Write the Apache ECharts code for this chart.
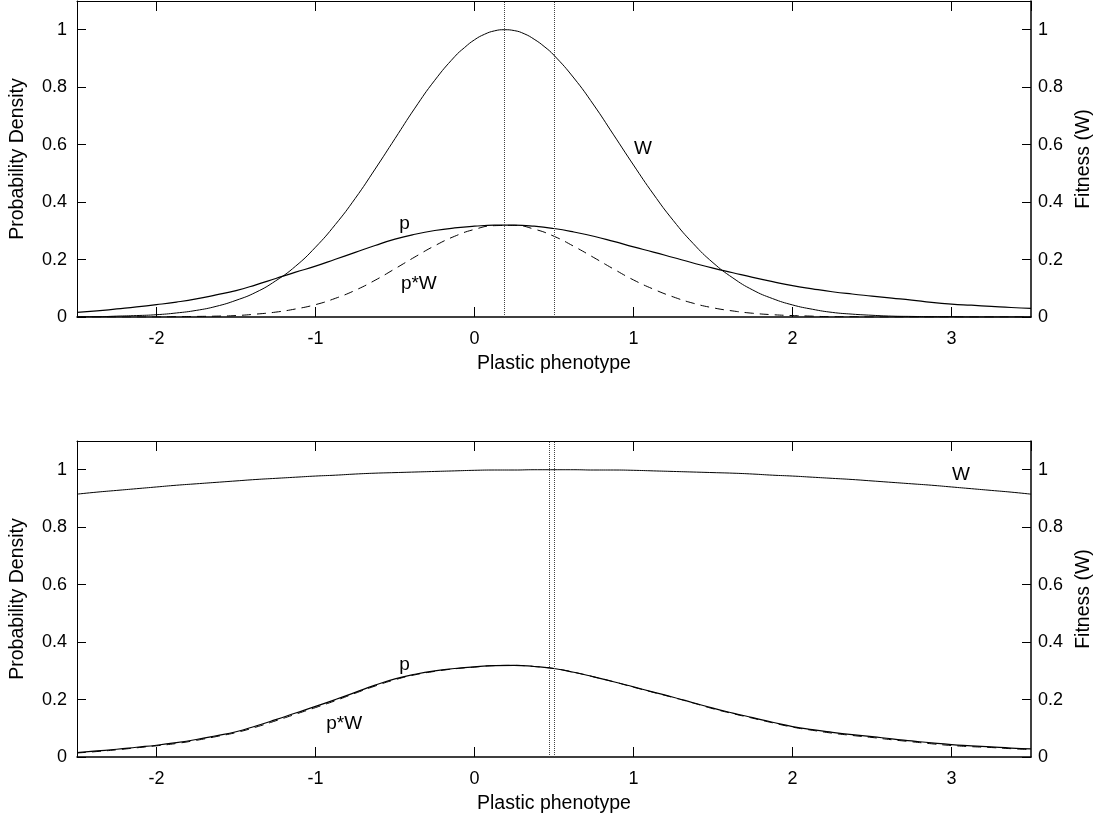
<!DOCTYPE html>
<html>
<head>
<meta charset="utf-8">
<title>Plastic phenotype</title>
<script src="https://cdn.jsdelivr.net/npm/echarts@6/dist/echarts.min.js"></script>
<style>
  html, body { margin: 0; padding: 0; background: #fff; }
  #main { width: 1104px; height: 818px; }
</style>
</head>
<body>
<div id="main"></div>
<script>
// x positions (plastic phenotype), step 0.125
var phenotype = [-2.5, -2.375, -2.25, -2.125, -2, -1.875, -1.75, -1.625, -1.5, -1.375, -1.25, -1.125,
                 -1, -0.875, -0.75, -0.625, -0.5, -0.375, -0.25, -0.125, 0, 0.125, 0.25, 0.375,
                 0.5, 0.625, 0.75, 0.875, 1, 1.125, 1.25, 1.375, 1.5, 1.625, 1.75, 1.875,
                 2, 2.125, 2.25, 2.375, 2.5, 2.625, 2.75, 2.875, 3, 3.125, 3.25, 3.375, 3.5];

// top panel: narrow fitness function (read a bit finer around its peak)
var fitnessTopX = [-2.5, -2.375, -2.25, -2.125, -2, -1.875, -1.75, -1.625, -1.5, -1.375, -1.25, -1.125,
                   -1, -0.875, -0.75, -0.625, -0.5, -0.375, -0.25, -0.125, -0.0625, 0, 0.0625, 0.125,
                   0.1875, 0.25, 0.3125, 0.375, 0.4375, 0.5, 0.625, 0.75, 0.875, 1, 1.125, 1.25,
                   1.375, 1.5, 1.625, 1.75, 1.875, 2, 2.125, 2.25, 2.375, 2.5, 2.625, 2.75, 2.875,
                   3, 3.125, 3.25, 3.375, 3.5];
var fitnessTop = [0.001, 0.001, 0.003, 0.005, 0.008, 0.014, 0.023, 0.037, 0.058, 0.086, 0.126, 0.177,
                  0.243, 0.322, 0.413, 0.515, 0.621, 0.727, 0.824, 0.906, 0.938, 0.965, 0.984, 0.996,
                  1.0, 0.997, 0.986, 0.967, 0.942, 0.911, 0.832, 0.738, 0.634, 0.529, 0.428, 0.336,
                  0.256, 0.189, 0.136, 0.094, 0.064, 0.042, 0.027, 0.016, 0.010, 0.006, 0.003, 0.002, 0.001,
                  0.001, 0, 0, 0, 0];
var densityTop = [0.016, 0.021, 0.028, 0.035, 0.043, 0.052, 0.063, 0.077, 0.092, 0.112, 0.134, 0.156,
                  0.177, 0.201, 0.225, 0.249, 0.271, 0.288, 0.301, 0.31, 0.316, 0.3195, 0.3195, 0.316,
                  0.308, 0.296, 0.281, 0.263, 0.244, 0.226, 0.207, 0.188, 0.17, 0.154, 0.138, 0.123,
                  0.109, 0.098, 0.088, 0.08, 0.073, 0.066, 0.059, 0.051, 0.045, 0.041, 0.037, 0.033, 0.03];
var selectedTop = [0, 0, 0, 0, 0, 0.001, 0.002, 0.003, 0.005, 0.01, 0.017, 0.028,
                   0.043, 0.065, 0.093, 0.128, 0.168, 0.209, 0.248, 0.281, 0.305, 0.318, 0.319, 0.306,
                   0.281, 0.246, 0.207, 0.167, 0.129, 0.097, 0.07, 0.048, 0.032, 0.021, 0.013, 0.008,
                   0.005, 0.003, 0.001, 0.001, 0, 0, 0, 0, 0, 0, 0, 0, 0];
var meanLinesTop = [0.19, 0.5];

// bottom panel: flat fitness function
var fitnessBottom = [0.915, 0.922, 0.928, 0.934, 0.94, 0.946, 0.951, 0.956, 0.961, 0.966, 0.97, 0.974,
                     0.978, 0.981, 0.985, 0.988, 0.99, 0.992, 0.994, 0.996, 0.998, 0.999, 0.999, 1.0,
                     1.0, 1.0, 0.999, 0.999, 0.998, 0.996, 0.994, 0.992, 0.99, 0.988, 0.985, 0.981,
                     0.978, 0.974, 0.97, 0.966, 0.961, 0.956, 0.951, 0.946, 0.94, 0.934, 0.928, 0.922, 0.915];
var densityBottom = [0.015, 0.021, 0.027, 0.034, 0.041, 0.05, 0.061, 0.074, 0.088, 0.108, 0.13, 0.153,
                     0.176, 0.2, 0.225, 0.25, 0.272, 0.288, 0.3, 0.308, 0.314, 0.318, 0.319, 0.315,
                     0.308, 0.295, 0.279, 0.262, 0.244, 0.226, 0.208, 0.189, 0.17, 0.153, 0.137, 0.121,
                     0.106, 0.095, 0.086, 0.078, 0.071, 0.063, 0.056, 0.049, 0.043, 0.039, 0.035, 0.031, 0.028];
var selectedBottom = [0.014, 0.019, 0.025, 0.032, 0.039, 0.047, 0.058, 0.071, 0.085, 0.104, 0.126, 0.149,
                      0.172, 0.196, 0.222, 0.247, 0.269, 0.286, 0.298, 0.307, 0.313, 0.318, 0.319, 0.315,
                      0.308, 0.295, 0.279, 0.262, 0.243, 0.225, 0.207, 0.188, 0.168, 0.151, 0.135, 0.119,
                      0.104, 0.093, 0.083, 0.075, 0.068, 0.06, 0.053, 0.046, 0.04, 0.036, 0.033, 0.029, 0.026];
var meanLinesBottom = [0.47, 0.5];

var FONT = 'Liberation Sans, Arial, sans-serif';

function pairs(xs, ys) {
    return xs.map(function (x, i) { return [x, ys[i]]; });
}

function xAxes(g) {
    var common = {
        type: 'value', gridIndex: g, min: -2.5, max: 3.5,
        splitLine: { show: false },
        axisLine: { onZero: false, lineStyle: { color: '#000', width: 1 } },
        axisTick: { inside: true, length: 10, lineStyle: { color: '#000' } }
    };
    var bottom = Object.assign({}, common, {
        position: 'bottom',
        axisLine: { onZero: false, lineStyle: { color: '#000', width: 1.5 } },
        axisLabel: { color: '#000', fontSize: 18, fontFamily: FONT, margin: 13,
                     showMinLabel: false, showMaxLabel: false },
        name: 'Plastic phenotype', nameLocation: 'middle', nameGap: 37,
        nameTextStyle: { color: '#000', fontSize: 19.5, fontFamily: FONT }
    });
    var top = Object.assign({}, common, { position: 'top', axisLabel: { show: false } });
    return [bottom, top];
}

function yAxes(g) {
    var common = {
        type: 'value', gridIndex: g, min: 0, max: 1.1, interval: 0.2,
        splitLine: { show: false },
        axisTick: { inside: true, length: 9, lineStyle: { color: '#000' } },
        nameLocation: 'middle',
        nameTextStyle: { color: '#000', fontSize: 19.5, fontFamily: FONT }
    };
    var left = Object.assign({}, common, {
        position: 'left',
        axisLine: { show: true, onZero: false, lineStyle: { color: '#000', width: 1 } },
        axisLabel: { color: '#000', fontSize: 18, fontFamily: FONT, margin: 10, showMaxLabel: false },
        name: 'Probability Density', nameGap: 49
    });
    var right = Object.assign({}, common, {
        position: 'right',
        axisLine: { show: true, onZero: false, lineStyle: { color: '#000', width: 1.5 } },
        axisLabel: { color: '#000', fontSize: 18, fontFamily: FONT, margin: 7, showMaxLabel: false },
        name: 'Fitness (W)', nameGap: 43
    });
    return [left, right];
}

function tag(text, x, y) {
    return {
        symbol: 'circle', symbolSize: 0, silent: true,
        label: { show: true, position: 'inside', formatter: text, color: '#000', fontSize: 19, fontFamily: FONT },
        data: [{ coord: [x, y] }]
    };
}

function panel(g, fitnessX, fitness, density, selected, means, tags) {
    var xi = g * 2, yi = g * 2;
    return [
        {
            name: 'W', type: 'line', xAxisIndex: xi, yAxisIndex: yi + 1,
            data: pairs(fitnessX, fitness), smooth: 0.5, showSymbol: false, silent: true,
            lineStyle: { color: '#000', width: 1 },
            markPoint: tag('W', tags.W[0], tags.W[1])
        },
        {
            name: 'p', type: 'line', xAxisIndex: xi, yAxisIndex: yi,
            data: pairs(phenotype, density), smooth: 0.5, showSymbol: false, silent: true,
            lineStyle: { color: '#000', width: 1.2 },
            markPoint: tag('p', tags.p[0], tags.p[1]),
            markLine: {
                symbol: ['none', 'none'], silent: true, label: { show: false },
                lineStyle: { type: 'dotted', color: '#444', width: 1 },
                data: means.map(function (v) { return { xAxis: v }; })
            }
        },
        {
            name: 'p*W', type: 'line', xAxisIndex: xi, yAxisIndex: yi,
            data: pairs(phenotype, selected), smooth: 0.5, showSymbol: false, silent: true,
            lineStyle: { color: '#000', width: 1, type: [9, 6] },
            markPoint: tag('p*W', tags.pW[0], tags.pW[1])
        }
    ];
}

var myChart = echarts.init(document.getElementById('main'));

var option = {
    animation: false,
    backgroundColor: '#fff',
    grid: [
        { left: 74, right: 73, top: 1, height: 316 },
        { left: 74, right: 73, top: 441, height: 316 }
    ],
    xAxis: xAxes(0).concat(xAxes(1)),
    yAxis: yAxes(0).concat(yAxes(1)),
    series: panel(0, fitnessTopX, fitnessTop, densityTop, selectedTop, meanLinesTop,
                  { W: [1.06, 0.585], p: [-0.44, 0.325], pW: [-0.35, 0.115] })
        .concat(panel(1, phenotype, fitnessBottom, densityBottom, selectedBottom, meanLinesBottom,
                  { W: [3.06, 0.981], p: [-0.44, 0.3225], pW: [-0.82, 0.117] }))
};

myChart.setOption(option);
</script>
</body>
</html>
